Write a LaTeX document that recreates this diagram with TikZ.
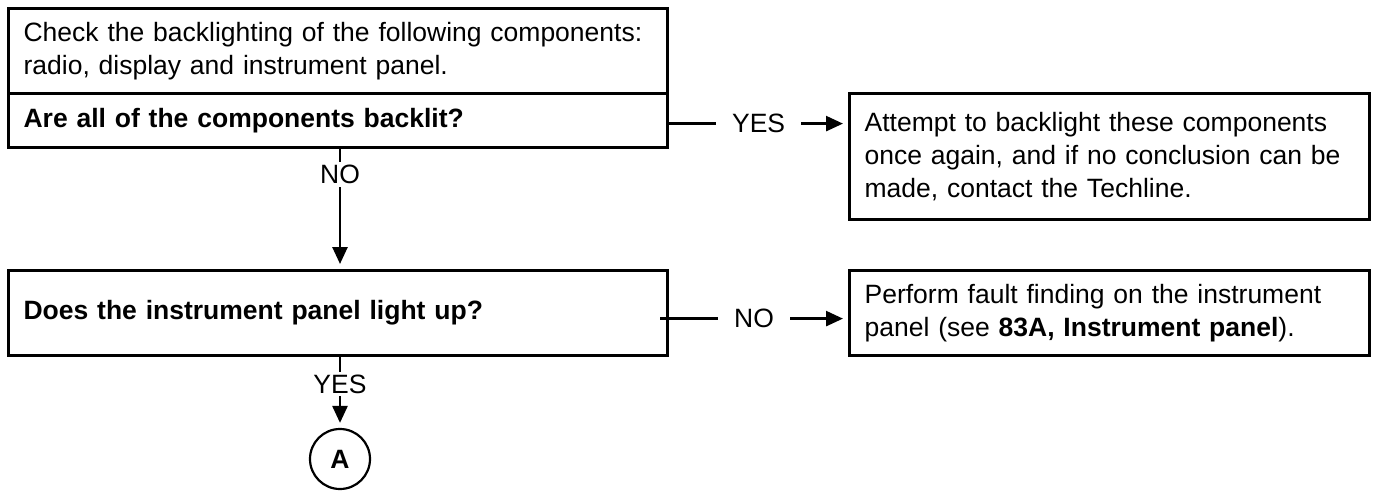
\documentclass[tikz,border=0pt]{standalone}
\usepackage{fontspec}
\setmainfont{Liberation Sans}
\usetikzlibrary{arrows.meta}
\begin{document}
\begin{tikzpicture}[x=1pt,y=-1pt,
  txt/.style={font=\fontsize{26.5}{33}\selectfont},
  btxt/.style={font=\bfseries\fontsize{26.5}{33}\selectfont},
  box/.style={draw, line width=3.2pt, anchor=north west, inner xsep=15pt, inner ysep=0pt, align=left, txt},
  conn/.style={line width=2.6pt, -{Triangle[length=17pt,width=15pt]}, shorten >=5pt},
  lbl/.style={fill=white, inner xsep=16pt, inner ysep=2pt, txt},
  vlbl/.style={fill=white, inner xsep=2pt, inner ysep=3pt, txt}
]
\useasboundingbox (0,0) rectangle (1373,493);
\node[box, text width=629pt, minimum height=85pt] (b1a) at (7,7)
  {Check the backlighting of the following components:\\radio, display and instrument panel.};
\node[box, text width=629pt, minimum height=54pt, btxt] (b1b) at (7,92)
  {Are all of the components backlit?};
\node[box, text width=490pt, minimum height=126pt] (b2) at (848,92)
  {Attempt to backlight these components\\once again, and if no conclusion can be\\made, contact the Techline.};
\node[box, text width=629pt, minimum height=85pt, btxt] (b3) at (7,269)
  {Does the instrument panel light up?};
\node[box, text width=490pt, minimum height=85pt] (b4) at (848,269)
  {Perform fault finding on the instrument\\panel (see \textbf{83A, Instrument panel}).};
\node[circle, draw, line width=2.2pt, minimum size=60pt, inner sep=0pt, btxt] (A) at (340,459) {A};

\coordinate (y1) at ([yshift=-3pt]b1b.east);
\coordinate (n1) at ([xshift=-9pt,yshift=-5.5pt]b3.east);
\draw[conn] (y1) -- node[lbl]{YES} (b2.west |- y1);
\draw[conn] (n1) -- node[lbl]{NO} (b4.west |- n1);
\draw[conn] (b1b.south -| A) -- node[vlbl, pos=0.21]{NO} (b3.north -| A);
\draw[conn] (b3.south -| A) -- node[vlbl, pos=0.38]{YES} (A.north);
\end{tikzpicture}
\end{document}
